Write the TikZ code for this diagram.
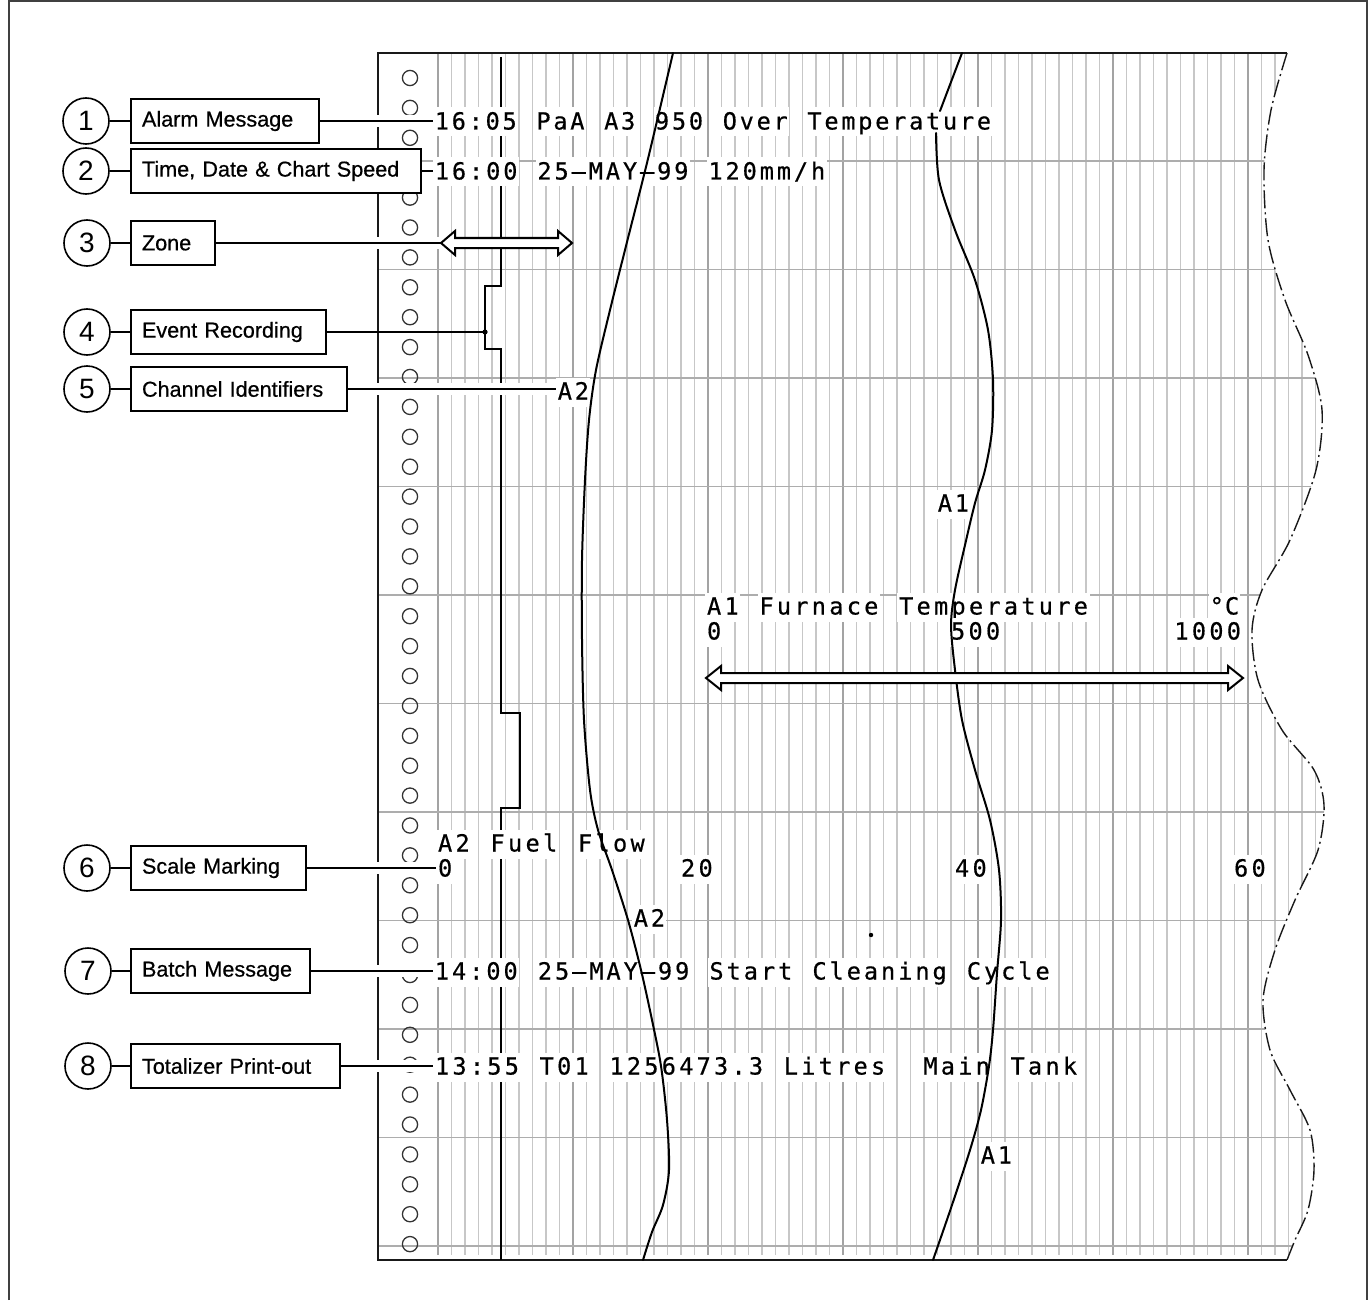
\documentclass[tikz,border=0pt]{standalone}
\usepackage{fontspec}
\newfontfamily\boxfont[FakeBold=0.6]{Liberation Sans}
\newfontfamily\numfont{Liberation Sans}
\newfontfamily\chartfont[FakeBold=0.5]{DejaVu Sans Mono}
\makeatletter
\newlength\cpitch \setlength\cpitch{8.5pt}
\def\ct@tilde{~}
\newcommand\ctext[1]{\@tfor\ct@c:=#1\do{\ct@one}}
\def\ct@one{\ifx\ct@c\ct@tilde\hbox to\cpitch{}\else\hbox to\cpitch{\rlap{\color{white}\vrule height 11pt depth 3.5pt width\cpitch}\hss\ct@c\hss}\fi}
\makeatother
\begin{document}
\begin{tikzpicture}[x=0.5pt,y=-0.5pt,
  frame/.style={draw=black!75, line width=0.75pt},
  minorgrid/.style={draw=black!22, line width=0.6pt},
  majorgrid/.style={draw=black!36, line width=0.7pt},
  hgrid/.style={draw=black!32, line width=0.7pt},
  hole/.style={draw=black!80, line width=0.65pt},
  paper/.style={draw=black!90, line width=1pt},
  wave/.style={draw=black!90, line width=0.7pt, dash pattern=on 9pt off 2pt on 1pt off 2pt},
  evline/.style={draw=black, line width=1pt},
  trace/.style={draw=black, line width=1pt, line cap=round},
  conn/.style={draw=black, line width=0.8pt, preaction={draw=white, line width=6pt}},
  link/.style={draw=black, line width=0.8pt},
  num/.style={circle, draw=black, line width=0.8pt, fill=white, minimum size=23pt, inner sep=0pt, font=\numfont\fontsize{14pt}{14pt}\selectfont},
  lbox/.style={draw=black, line width=1pt, fill=white, anchor=west, minimum height=22pt, inner xsep=5.5pt, inner ysep=0pt, align=left, font=\boxfont\fontsize{10.8pt}{12pt}\selectfont},
  ctxt/.style={anchor=base west, inner sep=0pt, font=\chartfont\fontsize{11.8pt}{12pt}\selectfont},
  ctxte/.style={ctxt, anchor=base east},
  dblarrow/.style={draw=black, line width=1pt, fill=white, line join=miter}
]
\useasboundingbox (0,0) rectangle (1369,1300);
% outer frame
\draw[frame] (9,1300) -- (9,1) -- (1367,1) -- (1367,1300);

% chart paper grid (clipped to the torn paper)
\begin{scope}
\clip (378,53) -- plot[smooth] coordinates {(1287,53) (1271,110) (1264,170) (1268,240) (1285,300) (1308,355) (1322,410) (1316,470) (1290,540) (1262,590) (1252,630) (1258,680) (1282,730) (1314,770) (1324,805) (1318,850) (1295,900) (1275,950) (1263,1000) (1270,1050) (1290,1090) (1310,1130) (1314,1170) (1308,1210) (1295,1240) (1287,1260)} -- (378,1260) -- cycle;
\foreach \k in {0,...,67} {\draw[minorgrid] ({438+13.5*\k},53) -- ({438+13.5*\k},1255);}
\foreach \k in {0,...,6} {\draw[majorgrid] ({438+135*\k},53) -- ({438+135*\k},1255);}
\foreach \k in {0,...,10} {\draw[hgrid] (378,{161+108.5*\k}) -- (1340,{161+108.5*\k});}
\end{scope}
% paper edges
\draw[paper] (1287,53) -- (378,53) -- (378,1260) -- (1287,1260);
\draw[wave] plot[smooth] coordinates {(1287,53) (1271,110) (1264,170) (1268,240) (1285,300) (1308,355) (1322,410) (1316,470) (1290,540) (1262,590) (1252,630) (1258,680) (1282,730) (1314,770) (1324,805) (1318,850) (1295,900) (1275,950) (1263,1000) (1270,1050) (1290,1090) (1310,1130) (1314,1170) (1308,1210) (1295,1240) (1287,1260)};

% sprocket holes
\foreach \k in {0,...,39} {\draw[hole] (410,{78+29.9*\k}) circle[radius=3.8pt];}

% callout numbers and boxes
\node[num] (c1) at (86,121) {1};
\node[lbox, text width=83pt] (b1) at (130,121) {Alarm Message};
\node[num] (c2) at (86,171) {2};
\node[lbox, text width=134pt] (b2) at (130,171) {Time, Date \& Chart Speed};
\node[num] (c3) at (87,243) {3};
\node[lbox, text width=31pt] (b3) at (130,243) {Zone};
\node[num] (c4) at (87,332) {4};
\node[lbox, text width=86.5pt] (b4) at (130,332) {Event Recording};
\node[num] (c5) at (87,389) {5};
\node[lbox, text width=97pt] (b5) at (130,389) {Channel Identifiers};
\node[num] (c6) at (87,868) {6};
\node[lbox, text width=76.5pt] (b6) at (130,868) {Scale Marking};
\node[num] (c7) at (88,971) {7};
\node[lbox, text width=78.5pt] (b7) at (130,971) {Batch Message};
\node[num] (c8) at (88,1066) {8};
\node[lbox, text width=93.5pt] (b8) at (130,1066) {Totalizer Print-out};
\foreach \i in {1,...,8} {\draw[link] (c\i) -- (b\i);}

% connector end points
\coordinate (p1) at (433,121);
\coordinate (p2) at (433,171);
\coordinate (p3) at (441,243);
\coordinate (p4) at (485,332);
\coordinate (p6) at (436,868);
\coordinate (p7) at (433,971);
\coordinate (p8) at (433,1066);

% connectors with white halo
\draw[conn] (b1.east) -- (p1);
\draw[conn] (b2.east) -- (p2);
\draw[conn] (b3.east) -- (p3);
\draw[conn] (b6.east) -- (p6);
\draw[conn] (b7.east) -- (p7);
\draw[conn] (b8.east) -- (p8);

% event recording trace
\draw[evline] (501,57) -- (501,286) -- (485,286) -- (485,349) -- (501,349) -- (501,713) -- (520,713) -- (520,808) -- (501,808) -- (501,1260);
\draw[link] (b4.east) -- (p4);
\fill (p4) circle[radius=1.3pt];

% chart texts
\node[ctxt] (t1) at (433,129.5) {\setlength\cpitch{8.47pt}\ctext{16:05~PaA~A3~950~Over~Temperature}};
\node[ctxt] (t2) at (433,179.5) {\setlength\cpitch{8.55pt}\ctext{16:00~25–MAY–99~120mm/h}};
\node[ctxt] (t7) at (433,979.5) {\setlength\cpitch{8.58pt}\ctext{14:00~25–MAY–99~Start~Cleaning~Cycle}};
\node[ctxt] (t8) at (433,1074.5) {\setlength\cpitch{8.72pt}\ctext{13:55~T01~1256473.3~Litres~~Main~Tank}};
\node[ctxt] (fa) at (705,614.5) {\setlength\cpitch{8.73pt}\ctext{A1~Furnace~Temperature}};
\node[ctxte] (fu) at (1240,614.5) {\setlength\cpitch{7.6pt}\ctext{°C}};
\node[ctxt] (f0) at (705,639.5) {\setlength\cpitch{8.73pt}\ctext{0}};
\node[ctxt] (f500) at (949,639.5) {\setlength\cpitch{8.73pt}\ctext{500}};
\node[ctxte] (f1000) at (1243,639.5) {\setlength\cpitch{8.73pt}\ctext{1000}};
\node[ctxt] (ga) at (436,851.5) {\setlength\cpitch{8.75pt}\ctext{A2~Fuel~Flow}};
\node[ctxt] (g0) at (436,876.5) {\setlength\cpitch{8.75pt}\ctext{0}};
\node[ctxt] (g20) at (679,876.5) {\setlength\cpitch{8.75pt}\ctext{20}};
\node[ctxt] (g40) at (953,876.5) {\setlength\cpitch{8.75pt}\ctext{40}};
\node[ctxt] (g60) at (1232,876.5) {\setlength\cpitch{8.75pt}\ctext{60}};
\node[ctxt] (la2a) at (556,399.5) {\ctext{A2}};
\node[ctxt] (la1a) at (936,511.5) {\ctext{A1}};
\node[ctxt] (la2b) at (632,926.5) {\ctext{A2}};
\node[ctxt] (la1b) at (979,1163.5) {\ctext{A1}};
\draw[conn] (b5.east) -- (la2a.west |- b5.east);
\fill (871,935) circle[radius=1.1pt];

% pen traces
\draw[trace] plot[smooth] coordinates {(673,53) (657,121) (645,171) (627,242) (610,310) (596,370) (589,420) (585,480) (582,560) (582,640) (584,720) (590,790) (598,830) (612,870) (628,920) (641,970) (652,1020) (661,1066) (667,1120) (669,1170) (663,1205) (652,1232) (643,1260)};
\draw[trace] (962,53) -- (940,111);
\draw[trace] plot[smooth] coordinates {(936,133) (939,180) (955,230) (975,280) (988,330) (993,380) (992,430) (985,470) (975,503) (965,545) (955,590) (951,625) (955,670) (962,720) (975,770) (990,820) (999,870) (1001,920) (997,973) (993,1030) (989,1066) (981,1110) (970,1150) (952,1205) (933,1260)};

% zone and scale span arrows
\draw[dblarrow] (441,243) -- (455,231) -- (455,238) -- (558,238) -- (558,231) -- (572,243) -- (558,255) -- (558,248) -- (455,248) -- (455,255) -- cycle;
\draw[dblarrow] (706,678) -- (721,666) -- (721,673) -- (1228,673) -- (1228,666) -- (1243,678) -- (1228,690) -- (1228,683) -- (721,683) -- (721,690) -- cycle;
\end{tikzpicture}
\end{document}
